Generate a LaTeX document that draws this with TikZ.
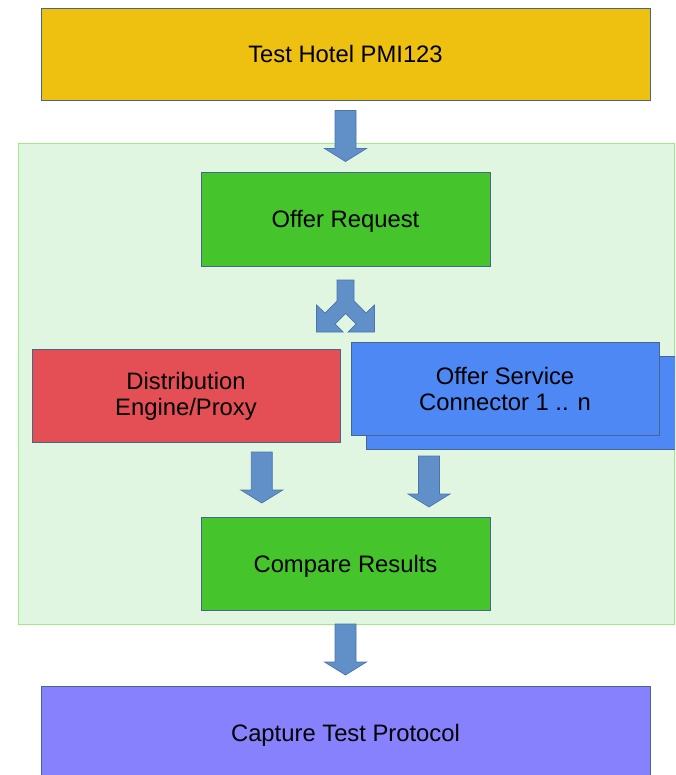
\documentclass[tikz,border=0pt]{standalone}
\usepackage{fontspec}
\setmainfont{Liberation Sans}
\definecolor{goldfill}{HTML}{EEC111}
\definecolor{contfill}{HTML}{E1F6E1}
\definecolor{contline}{HTML}{9DEE80}
\definecolor{greenfill}{HTML}{45C52B}
\definecolor{redfill}{HTML}{E34F54}
\definecolor{bluefill}{HTML}{4D88F5}
\definecolor{purplefill}{HTML}{8781FD}
\definecolor{boxline}{HTML}{44668F}
\definecolor{arrowfill}{HTML}{618FC8}
\definecolor{arrowline}{HTML}{4A76AE}
\tikzset{
  boxstyle/.style={draw=boxline, line width=0.8pt, inner sep=0pt, outer sep=0pt,
    align=center, font=\fontsize{23.8}{26}\selectfont},
  oneline/.style={text height=17pt, text depth=0pt},
  arrowstyle/.style={fill=arrowfill, draw=arrowline, line width=0.7pt, line join=miter},
  blockdown/.pic={
    \draw[arrowstyle] (-10.5,0) -- (10.5,0) -- (10.5,38) -- (21,38) -- (0,51)
      -- (-21,38) -- (-10.5,38) -- cycle;
  }
}
\begin{document}
\begin{tikzpicture}[x=1pt,y=-1pt]
\useasboundingbox (0,0) rectangle (675,775);
\clip (0,0) rectangle (675,775);
\fill[white] (0,0) rectangle (675,775);
% container
\draw[fill=contfill, draw=contline, line width=0.8pt] (18.3,143.5) rectangle (674.5,624.5);
% boxes
\node[boxstyle, oneline, fill=goldfill, minimum width=609pt, minimum height=92pt] (hotel) at (345.5,54) {Test Hotel PMI123};
\node[boxstyle, oneline, fill=greenfill, minimum width=289pt, minimum height=94pt] (request) at (345.5,219) {Offer Request};
\node[boxstyle, fill=redfill, minimum width=308pt, minimum height=93pt] (engine) at (186,396) {Distribution\\Engine/Proxy};
\node[boxstyle, fill=bluefill, minimum width=309pt, minimum height=93pt] (serviceback) at (520.5,402.5) {};
\node[boxstyle, fill=bluefill, minimum width=308pt, minimum height=93pt] (service) at (505,388.5) {Offer Service\\Connector 1 .. n};
\node[boxstyle, oneline, fill=greenfill, minimum width=289pt, minimum height=93pt] (compare) at (345.5,564) {Compare Results};
\node[boxstyle, oneline, fill=purplefill, minimum width=609pt, minimum height=94pt] (capture) at (345.5,733) {Capture Test Protocol};
% block arrows
\pic at (345.5,110.5) {blockdown};
\pic at (261.8,452) {blockdown};
\pic at (429,456) {blockdown};
\pic at (345.5,624) {blockdown};
% split arrow
\draw[arrowstyle] (337,280) -- (354,280) -- (354,301) -- (366,313) -- (374.5,305)
  -- (374.5,332) -- (348,332) -- (356,324) -- (345.5,313.5) -- (335,324) -- (343,332)
  -- (316.5,332) -- (316.5,305) -- (325,313) -- (337,301) -- cycle;
\end{tikzpicture}
\end{document}
